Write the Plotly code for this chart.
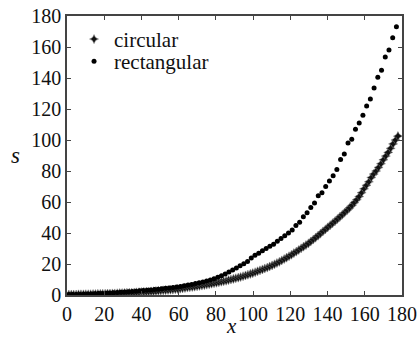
import plotly.graph_objects as go

# ---- data ----
circ_x = [1.0,2.3,3.6,4.9,6.2,7.5,8.8,10.1,11.4,12.7,14.0,15.3,16.6,17.9,19.2,20.5,21.8,23.1,24.4,25.7,
          27.0,28.3,29.6,30.9,32.2,33.5,34.8,36.1,37.4,38.7,40.0,41.3,42.6,43.9,45.2,46.5,47.8,49.1,50.4,51.7,
          53.0,54.3,55.6,56.9,58.2,59.5,60.8,62.1,63.4,64.7,66.0,67.3,68.6,69.9,71.2,72.5,73.8,75.1,76.4,77.7,
          79.0,80.3,81.6,82.9,84.2,85.5,86.8,88.1,89.4,90.7,92.0,93.3,94.6,95.9,97.2,98.5,99.8,101.1,102.4,103.7,
          105.0,106.3,107.6,108.9,110.2,111.5,112.8,114.1,115.4,116.7,118.0,119.3,120.6,121.9,123.2,124.5,125.8,127.1,128.4,129.7,
          131.0,132.3,133.6,134.9,136.2,137.5,138.8,140.1,141.4,142.7,144.0,145.3,146.6,147.9,149.2,150.5,151.8,153.1,154.4,155.7,
          157.0,158.3,159.6,160.9,162.2,163.5,164.8,166.1,167.4,168.7,170.0,171.3,172.6,173.9,175.2,176.5,177.8]
circ_s = [0.3,0.3,0.3,0.3,0.4,0.4,0.4,0.5,0.5,0.5,0.6,0.6,0.7,0.7,0.8,0.8,0.9,0.9,1.0,1.0,
          1.1,1.2,1.2,1.3,1.4,1.5,1.5,1.6,1.7,1.8,1.9,2.0,2.1,2.2,2.3,2.4,2.6,2.7,2.8,3.0,
          3.1,3.2,3.4,3.5,3.7,3.9,4.1,4.3,4.5,4.8,5.0,5.2,5.4,5.6,5.9,6.1,6.4,6.7,7.0,7.3,
          7.6,7.9,8.2,8.6,8.9,9.2,9.6,10.0,10.4,10.8,11.2,11.6,12.1,12.6,13.1,13.6,14.1,14.7,15.3,15.9,
          16.5,17.1,17.7,18.4,19.1,19.8,20.6,21.4,22.3,23.2,24.1,25.0,26.0,27.0,28.0,29.0,30.1,31.2,32.2,33.3,
          34.5,35.8,37.0,38.3,39.6,41.0,42.3,43.6,45.0,46.3,47.6,49.0,50.4,51.8,53.2,54.7,56.2,57.8,59.6,61.5,
          63.5,66.0,68.5,70.8,73.0,75.8,78.0,80.0,82.3,84.7,87.2,89.6,92.0,94.6,97.5,100.0,102.5]

rect_x = [1,3,5,7,9,11,13,15,17,19,21,23,25,27,29,31,33,35,37,39,
          41,43,45,47,49,51,53,55,57,59,61,63,65,67,69,71,73,75,77,79,
          81,83,85,87,89,91,93,95,97,99,101,103,105,107,109,111,113,115,117,119,
          121,123,125,127,129,131,133,135,137,139,141,143,145,147,149,151,153,155,157,159,
          161,163,165,167,169,171,173,175,177]
rect_s = [0.3,0.3,0.4,0.4,0.5,0.6,0.7,0.8,0.9,1.0,1.2,1.3,1.4,1.6,1.7,1.9,2.1,2.3,2.5,2.7,
          2.9,3.1,3.3,3.5,3.7,4.0,4.3,4.5,4.8,5.1,5.5,6.0,6.4,6.8,7.4,7.9,8.4,9.0,9.7,10.5,
          11.4,12.4,13.5,14.8,16.2,17.5,18.8,20.2,21.6,23.8,25.6,27.0,28.6,30.0,31.4,32.8,34.6,36.5,38.3,40.0,
          42.0,44.8,46.9,50.5,53.0,56.5,59.4,64.0,66.0,70.0,73.5,77.0,81.0,87.5,91.0,98.0,100.5,107.0,111.0,116.0,
          122.0,126.5,133.5,140.5,145.0,153.5,158.0,166.0,173.0]

tick_vals = [0, 20, 40, 60, 80, 100, 120, 140, 160, 180]
series_names = ["circular", "rectangular"]

FONT = "Liberation Serif, Times New Roman, DejaVu Serif, serif"

fig = go.Figure()
fig.add_trace(go.Scatter(
    x=circ_x, y=circ_s, mode="markers", name=series_names[0], legend="legend",
    marker=dict(symbol="star-diamond", size=6.5, color="#111111",
                line=dict(width=0.8, color="rgba(110,110,110,0.55)")),
))
fig.add_trace(go.Scatter(
    x=rect_x, y=rect_s, mode="markers", name=series_names[1], legend="legend2",
    marker=dict(symbol="circle", size=5, color="#000000"),
))

axis_common = dict(
    range=[0, 180], tickvals=tick_vals, ticks="inside", ticklen=4, tickwidth=1.2,
    tickcolor="#444444", showline=True, linecolor="#444444", linewidth=1.6,
    mirror="ticks", showgrid=False, zeroline=False, automargin=False,
    tickfont=dict(family=FONT, size=20, color="#111111"),
)

legend_common = dict(xanchor="left", yanchor="middle",
                     font=dict(family=FONT, size=21, color="#111111"),
                     bgcolor="rgba(0,0,0,0)", borderwidth=0)

fig.update_layout(
    width=417, height=342,
    margin=dict(l=67, r=15, t=16, b=47),
    paper_bgcolor="white", plot_bgcolor="white",
    xaxis=dict(**axis_common),
    yaxis=dict(**axis_common),
    showlegend=True,
    legend=dict(x=0.021, y=0.916, **legend_common),
    legend2=dict(x=0.021, y=0.837, **legend_common),
    annotations=[
        dict(text="<i>s</i>", x=-0.155, y=0.5, xref="paper", yref="paper",
             xanchor="center", yanchor="middle",
             showarrow=False, font=dict(family=FONT, size=23, color="#111111")),
        dict(text="<i>x</i>", x=0.49, y=-0.163, xref="paper", yref="paper",
             xanchor="center", yanchor="bottom",
             showarrow=False, font=dict(family=FONT, size=21, color="#111111")),
    ],
)

fig.write_html("out.html", config={"displayModeBar": False},
               post_script="document.body.style.margin='0';")
